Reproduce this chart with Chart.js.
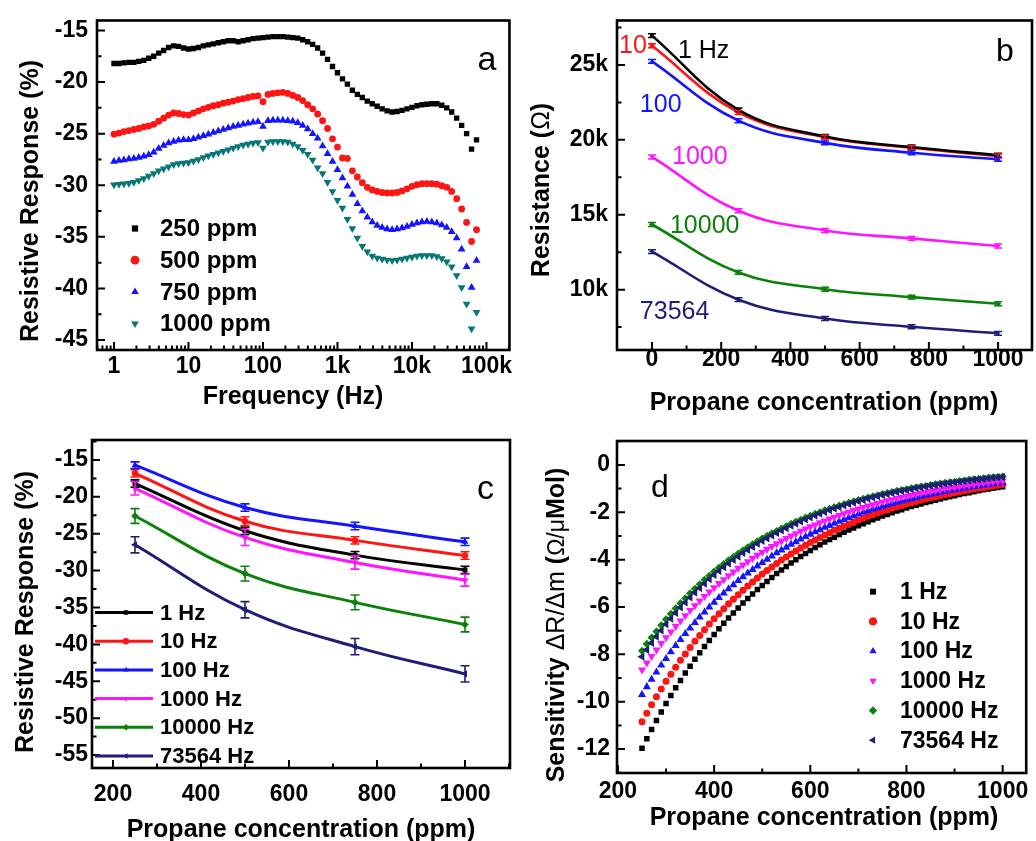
<!DOCTYPE html>
<html>
<head>
<meta charset="utf-8">
<script src="https://cdn.jsdelivr.net/npm/chart.js@4/dist/chart.umd.min.js"></script>
<style>
  html, body { margin: 0; padding: 0; background: #fff; }
  body { width: 1036px; height: 841px; overflow: hidden; position: relative; }
  .panel { position: absolute; }
</style>
</head>
<body>
<div class="panel" style="left:0;top:0;width:518px;height:420px"><canvas id="chartA"></canvas></div>
<div class="panel" style="left:518px;top:0;width:518px;height:420px"><canvas id="chartB"></canvas></div>
<div class="panel" style="left:0;top:418px;width:518px;height:430px"><canvas id="chartC"></canvas></div>
<div class="panel" style="left:518px;top:418px;width:518px;height:430px"><canvas id="chartD"></canvas></div>
<script>
// ---------- (a) resistive response vs frequency ----------
const freqHz = [
  1, 1.166, 1.359, 1.585, 1.848, 2.154, 2.512, 2.929, 3.415, 3.981, 4.642, 5.412, 6.31, 7.356, 8.577,
  10, 11.66, 13.59, 15.85, 18.48, 21.54, 25.12, 29.29, 34.15, 39.81, 46.42, 54.12, 63.1, 73.56, 85.77,
  100, 116.6, 135.9, 158.5, 184.8, 215.4, 251.2, 292.9, 341.5, 398.1, 464.2, 541.2, 631, 735.6, 857.7,
  1000, 1166, 1359, 1585, 1848, 2154, 2512, 2929, 3415, 3981, 4642, 5412, 6310, 7356, 8577,
  10000, 11659, 13594, 15849, 18478, 21544, 25119, 29286, 34146, 39811, 46416, 54117, 63096, 73564
];
const resp250ppm = [
  -18.2, -18.2, -18.15, -18.1, -18.1, -18.0, -17.9, -17.7, -17.5, -17.2, -16.95, -16.65, -16.5, -16.55, -16.7,
  -16.8, -16.75, -16.65, -16.5, -16.4, -16.3, -16.2, -16.1, -16.0, -16.0, -16.1, -16.0, -15.9, -15.8, -15.75,
  -15.7, -15.65, -15.6, -15.6, -15.6, -15.65, -15.7, -15.75, -15.9, -16.1, -16.35, -16.7, -17.2, -17.8, -18.5,
  -19.1, -19.7, -20.2, -20.8, -21.2, -21.5, -21.85, -22.1, -22.35, -22.6, -22.8, -22.9, -22.85, -22.75, -22.6,
  -22.45, -22.3, -22.2, -22.15, -22.1, -22.1, -22.25, -22.5, -22.9, -23.5, -24.2, -25.0, -26.5, -25.6
];
const resp500ppm = [
  -25.05, -24.95, -24.8, -24.7, -24.6, -24.5, -24.35, -24.25, -24.1, -23.8, -23.5, -23.2, -23.0, -23.05, -23.15,
  -23.2, -23.0, -22.8, -22.6, -22.45, -22.3, -22.2, -22.05, -21.95, -21.85, -21.7, -21.6, -21.5, -21.4, -21.35,
  -21.9, -21.2, -21.1, -21.05, -21.0, -21.1, -21.3, -21.5, -21.8, -22.2, -22.6, -23.1, -23.75, -24.5, -25.5,
  -26.3, -27.35, -27.4, -28.6, -29.2, -29.75, -30.2, -30.45, -30.6, -30.7, -30.75, -30.75, -30.7, -30.55, -30.35,
  -30.1, -29.95, -29.85, -29.85, -29.85, -29.9, -30.05, -30.2, -30.6, -31.3, -32.3, -33.6, -35.45, -34.3
];
const resp750ppm = [
  -27.7, -27.6, -27.55, -27.45, -27.4, -27.3, -27.2, -27.05, -26.8, -26.45, -26.15, -25.9, -25.75, -25.65, -25.6,
  -25.6, -25.5, -25.35, -25.2, -25.05, -24.9, -24.75, -24.6, -24.45, -24.3, -24.2, -24.1, -24.0, -23.9, -23.85,
  -24.3, -23.75, -23.7, -23.7, -23.7, -23.75, -23.8, -23.95, -24.2, -24.55, -25.0, -25.45, -26.2, -26.95, -27.7,
  -28.5, -29.3, -30.1, -30.9, -31.8, -32.5, -33.1, -33.55, -33.9, -34.1, -34.25, -34.3, -34.25, -34.15, -34.0,
  -33.8, -33.65, -33.55, -33.5, -33.55, -33.65, -33.85, -34.1, -34.5, -35.1, -36.2, -37.9, -39.9, -37.3
];
const resp1000ppm = [
  -29.95, -29.9, -29.85, -29.8, -29.7, -29.55, -29.35, -29.1, -28.85, -28.6, -28.4, -28.2, -28.0, -27.9, -27.85,
  -27.8, -27.65, -27.5, -27.3, -27.15, -27.0, -26.85, -26.7, -26.55, -26.4, -26.25, -26.1, -26.0, -25.9, -25.85,
  -26.4, -25.8, -25.75, -25.75, -25.75, -25.8, -26.0, -26.25, -26.6, -27.0, -27.55, -28.3, -28.85, -29.7, -30.6,
  -31.45, -32.2, -33.3, -34.2, -35.1, -35.9, -36.45, -36.85, -37.05, -37.15, -37.25, -37.3, -37.25, -37.15, -37.05,
  -36.95, -36.85, -36.8, -36.8, -36.8, -36.9, -37.1, -37.4, -37.9, -38.75, -39.9, -41.5, -43.9, -42.3
];
const freqTicks = [1, 10, 100, 1000, 10000, 100000];
const freqTickText = ['1', '10', '100', '1k', '10k', '100k'];

// ---------- (b) resistance vs propane concentration ----------
const concB = [0, 250, 500, 750, 1000];
const res1Hz     = [26960, 22000, 20225, 19520, 18970];
const res10Hz    = [26280, 21830, 20180, 19470, 18925];
const res100Hz   = [25240, 21280, 19800, 19140, 18700];
const res1000Hz  = [18860, 15270, 13950, 13420, 12910];
const res10000Hz = [14350, 11150, 10030, 9500, 9060];
const res73564Hz = [12540, 9330, 8070, 7520, 7080];
const resErr     = [130, 130, 130, 130, 130];
const resTicks = [10000, 15000, 20000, 25000];
const resTickText = ['10k', '15k', '20k', '25k'];

// ---------- (c) resistive response vs propane concentration ----------
const concC = [250, 500, 750, 1000];
const respC1Hz     = [-18.2, -24.6, -27.9, -29.9];
const respC10Hz    = [-16.8, -23.3, -25.9, -27.95];
const respC100Hz   = [-15.7, -21.45, -23.95, -26.1];
const respC1000Hz  = [-18.85, -25.5, -28.9, -31.3];
const respC10000Hz = [-22.6, -30.4, -34.3, -37.3];
const respC73564Hz = [-26.5, -35.3, -40.3, -44.0];
const errC1Hz     = [0.5, 0.5, 0.5, 0.5];
const errC10Hz    = [0.5, 0.6, 0.5, 0.5];
const errC100Hz   = [0.45, 0.5, 0.5, 0.5];
const errC1000Hz  = [0.9, 1.1, 0.9, 0.8];
const errC10000Hz = [1.0, 1.0, 1.0, 1.0];
const errC73564Hz = [1.1, 1.1, 1.1, 1.1];

// ---------- (d) sensitivity vs propane concentration ----------
const concD = [
  250, 260, 270, 280, 290, 300, 310, 320, 330, 340, 350, 360, 370, 380, 390, 400, 410, 420, 430, 440,
  450, 460, 470, 480, 490, 500, 510, 520, 530, 540, 550, 560, 570, 580, 590, 600, 610, 620, 630, 640,
  650, 660, 670, 680, 690, 700, 710, 720, 730, 740, 750, 760, 770, 780, 790, 800, 810, 820, 830, 840,
  850, 860, 870, 880, 890, 900, 910, 920, 930, 940, 950, 960, 970, 980, 990, 1000
];
const sens1Hz = [
  -11.96, -11.56, -11.17, -10.79, -10.43, -10.08, -9.74, -9.41, -9.10, -8.79,
  -8.50, -8.21, -7.93, -7.67, -7.41, -7.16, -6.92, -6.69, -6.46, -6.25,
  -6.04, -5.83, -5.64, -5.45, -5.26, -5.09, -4.92, -4.75, -4.59, -4.44,
  -4.29, -4.14, -4.00, -3.87, -3.74, -3.61, -3.49, -3.37, -3.26, -3.15,
  -3.05, -2.94, -2.84, -2.75, -2.66, -2.57, -2.48, -2.40, -2.32, -2.24,
  -2.16, -2.09, -2.02, -1.95, -1.89, -1.82, -1.76, -1.70, -1.65, -1.59,
  -1.54, -1.49, -1.44, -1.39, -1.34, -1.30, -1.25, -1.21, -1.17, -1.13,
  -1.09, -1.05, -1.02, -0.99, -0.95, -0.92
];
const sens10Hz = [
  -10.85, -10.49, -10.13, -9.79, -9.46, -9.14, -8.84, -8.54, -8.25, -7.98,
  -7.71, -7.45, -7.20, -6.96, -6.72, -6.50, -6.28, -6.07, -5.86, -5.67,
  -5.48, -5.29, -5.11, -4.94, -4.78, -4.61, -4.46, -4.31, -4.16, -4.02,
  -3.89, -3.76, -3.63, -3.51, -3.39, -3.28, -3.17, -3.06, -2.96, -2.86,
  -2.76, -2.67, -2.58, -2.49, -2.41, -2.33, -2.25, -2.17, -2.10, -2.03,
  -1.96, -1.90, -1.83, -1.77, -1.71, -1.65, -1.60, -1.54, -1.49, -1.44,
  -1.39, -1.35, -1.30, -1.26, -1.22, -1.18, -1.14, -1.10, -1.06, -1.02,
  -0.99, -0.96, -0.92, -0.89, -0.86, -0.83
];
const sens100Hz = [
  -9.70, -9.37, -9.06, -8.75, -8.46, -8.18, -7.90, -7.63, -7.38, -7.13,
  -6.89, -6.66, -6.43, -6.22, -6.01, -5.81, -5.61, -5.42, -5.24, -5.07,
  -4.89, -4.73, -4.57, -4.42, -4.27, -4.13, -3.99, -3.85, -3.72, -3.60,
  -3.48, -3.36, -3.25, -3.14, -3.03, -2.93, -2.83, -2.74, -2.64, -2.56,
  -2.47, -2.39, -2.31, -2.23, -2.15, -2.08, -2.01, -1.94, -1.88, -1.82,
  -1.75, -1.70, -1.64, -1.58, -1.53, -1.48, -1.43, -1.38, -1.33, -1.29,
  -1.25, -1.20, -1.16, -1.12, -1.09, -1.05, -1.02, -0.98, -0.95, -0.92,
  -0.89, -0.86, -0.83, -0.80, -0.77, -0.75
];
const sens1000Hz = [
  -8.65, -8.36, -8.08, -7.81, -7.54, -7.29, -7.05, -6.81, -6.58, -6.36,
  -6.14, -5.94, -5.74, -5.55, -5.36, -5.18, -5.00, -4.84, -4.67, -4.52,
  -4.36, -4.22, -4.08, -3.94, -3.81, -3.68, -3.56, -3.44, -3.32, -3.21,
  -3.10, -3.00, -2.90, -2.80, -2.70, -2.61, -2.53, -2.44, -2.36, -2.28,
  -2.20, -2.13, -2.06, -1.99, -1.92, -1.86, -1.79, -1.73, -1.68, -1.62,
  -1.56, -1.51, -1.46, -1.41, -1.36, -1.32, -1.27, -1.23, -1.19, -1.15,
  -1.11, -1.07, -1.04, -1.00, -0.97, -0.94, -0.91, -0.87, -0.85, -0.82,
  -0.79, -0.76, -0.74, -0.71, -0.69, -0.67
];
const sens10000Hz = [
  -7.85, -7.56, -7.29, -7.03, -6.77, -6.52, -6.29, -6.06, -5.84, -5.63,
  -5.42, -5.23, -5.04, -4.85, -4.68, -4.51, -4.34, -4.19, -4.03, -3.89,
  -3.75, -3.61, -3.48, -3.35, -3.23, -3.11, -3.00, -2.89, -2.79, -2.69,
  -2.59, -2.49, -2.40, -2.32, -2.23, -2.15, -2.07, -2.00, -1.92, -1.85,
  -1.79, -1.72, -1.66, -1.60, -1.54, -1.49, -1.43, -1.38, -1.33, -1.28,
  -1.23, -1.19, -1.15, -1.10, -1.06, -1.03, -0.99, -0.95, -0.92, -0.89,
  -0.85, -0.82, -0.79, -0.76, -0.74, -0.71, -0.68, -0.66, -0.63, -0.61,
  -0.59, -0.57, -0.55, -0.53, -0.51, -0.49
];
const sens73564Hz = [
  -8.10, -7.81, -7.52, -7.25, -6.99, -6.73, -6.49, -6.25, -6.02, -5.81,
  -5.60, -5.39, -5.20, -5.01, -4.83, -4.65, -4.48, -4.32, -4.16, -4.01,
  -3.87, -3.72, -3.59, -3.46, -3.33, -3.21, -3.10, -2.98, -2.87, -2.77,
  -2.67, -2.57, -2.48, -2.39, -2.30, -2.22, -2.14, -2.06, -1.99, -1.91,
  -1.84, -1.78, -1.71, -1.65, -1.59, -1.53, -1.48, -1.42, -1.37, -1.32,
  -1.27, -1.23, -1.18, -1.14, -1.10, -1.06, -1.02, -0.98, -0.95, -0.91,
  -0.88, -0.85, -0.82, -0.79, -0.76, -0.73, -0.70, -0.68, -0.65, -0.63,
  -0.61, -0.59, -0.56, -0.54, -0.52, -0.51
];

const freqLabels = ['1 Hz', '10 Hz', '100 Hz', '1000 Hz', '10000 Hz', '73564 Hz'];

// ---------- shared styling ----------
const FAM = "'Liberation Sans', Arial, Helvetica, sans-serif";
const COL = {
  black: '#000000', red: '#ff1414', blue: '#1414ff', magenta: '#ff14ff',
  green: '#0a820a', navy: '#1e1e78', teal: '#067676'
};
const tickFont = { family: FAM, size: 23, weight: 'bold', lineHeight: 1 };
const B25 = `bold 25px ${FAM}`;
const R25 = `25px ${FAM}`;

const pts = (xs, ys) => xs.map((x, i) => ({ x, y: ys[i] }));

function axis(o) {
  return {
    type: o.type || 'linear',
    position: o.position,
    min: o.min, max: o.max,
    grid: { display: false, drawTicks: false },
    border: { display: false },
    ticks: {
      font: tickFont, color: '#000', padding: o.pad, autoSkip: false, maxRotation: 0,
      callback: (v) => {
        const i = o.ticks.indexOf(v);
        return o.text ? (i >= 0 ? o.text[i] : '') : String(v);
      }
    },
    title: { display: false },
    afterBuildTicks: (s) => { s.ticks = o.ticks.map(v => ({ value: v })); },
    afterFit: (s) => { if (o.position === 'left') s.width = o.size; else s.height = o.size; }
  };
}

// box frame with inward major/minor ticks on the left and bottom axes
const framePlugin = {
  id: 'frame',
  afterDatasetsDraw(chart, args, o) {
    const { ctx, chartArea: a, scales } = chart;
    ctx.save();
    ctx.strokeStyle = '#000';
    ctx.lineWidth = 2;
    ctx.beginPath();
    const xt = (v, len) => {
      const p = scales.x.getPixelForValue(v);
      if (p < a.left - 0.5 || p > a.right + 0.5) return;
      ctx.moveTo(p, a.bottom); ctx.lineTo(p, a.bottom - len);
    };
    const yt = (v, len) => {
      const p = scales.y.getPixelForValue(v);
      if (p < a.top - 0.5 || p > a.bottom + 0.5) return;
      ctx.moveTo(a.left, p); ctx.lineTo(a.left + len, p);
    };
    (o.xMajor || []).forEach(v => xt(v, 8));
    (o.xMinor || []).forEach(v => xt(v, 4.5));
    (o.yMajor || []).forEach(v => yt(v, 8));
    (o.yMinor || []).forEach(v => yt(v, 4.5));
    ctx.stroke();
    ctx.lineWidth = 2.6;
    ctx.strokeRect(a.left, a.top, a.right - a.left, a.bottom - a.top);
    ctx.restore();
  }
};

// vertical error bars with caps, taken from dataset.errors
const errorBarPlugin = {
  id: 'errorBars',
  afterDatasetsDraw(chart, args, o) {
    const { ctx } = chart;
    const ys = chart.scales.y;
    chart.data.datasets.forEach((ds, i) => {
      if (!ds.errors) return;
      const meta = chart.getDatasetMeta(i);
      ctx.save();
      ctx.strokeStyle = ds.borderColor;
      ctx.lineWidth = o.width || 1.5;
      meta.data.forEach((el, j) => {
        const v = ds.data[j].y, e = ds.errors[j];
        const y1 = ys.getPixelForValue(v + e), y2 = ys.getPixelForValue(v - e);
        ctx.beginPath();
        ctx.moveTo(el.x, y1); ctx.lineTo(el.x, y2);
        ctx.moveTo(el.x - o.cap, y1); ctx.lineTo(el.x + o.cap, y1);
        ctx.moveTo(el.x - o.cap, y2); ctx.lineTo(el.x + o.cap, y2);
        ctx.stroke();
      });
      ctx.restore();
    });
  }
};

// legend drawn inside the plot area
const insideLegend = {
  id: 'insideLegend',
  afterDraw(chart, args, o) {
    if (!o || !o.show) return;
    const { ctx, chartArea: a } = chart;
    ctx.save();
    ctx.font = `bold ${o.size}px ${FAM}`;
    ctx.textBaseline = 'middle';
    ctx.textAlign = 'left';
    chart.data.datasets.forEach((ds, i) => {
      const y = a.top + o.y + i * o.dy;
      if (o.line) {
        ctx.strokeStyle = ds.borderColor;
        ctx.lineWidth = 3;
        ctx.beginPath();
        ctx.moveTo(a.left + o.lx1, y); ctx.lineTo(a.left + o.lx2, y);
        ctx.stroke();
      }
      ctx.fillStyle = ds.pointBackgroundColor;
      Chart.helpers.drawPoint(ctx, {
        pointStyle: ds.pointStyle, radius: o.r || ds.pointRadius,
        rotation: ds.pointRotation || 0, borderWidth: 0
      }, a.left + o.mx, y);
      ctx.fillStyle = '#000';
      ctx.fillText(ds.label, a.left + o.tx, y + 1);
    });
    ctx.restore();
  }
};

// free text: axis titles (canvas px), panel letters (relative to plot area),
// curve annotations (data units); a text may be made of runs with their own fonts
function drawNotes(chart, list) {
  const { ctx, chartArea: a, scales } = chart;
  ctx.save();
  list.forEach(n => {
    let x, y;
    if (n.cx !== undefined) { x = n.cx; y = n.cy; }
    else if (n.ax !== undefined) {
      x = n.ax >= 0 ? a.left + n.ax : a.right + n.ax;
      y = a.top + n.ay;
    } else {
      x = scales.x.getPixelForValue(n.x);
      y = scales.y.getPixelForValue(n.y);
    }
    const runs = n.runs || [[n.text, n.font]];
    ctx.fillStyle = n.color || '#000';
    ctx.textBaseline = 'middle';
    ctx.textAlign = 'left';
    let total = 0;
    runs.forEach(r => { ctx.font = r[1]; total += ctx.measureText(r[0]).width; });
    const align = n.align || 'left';
    let start = align === 'center' ? -total / 2 : (align === 'right' ? -total : 0);
    ctx.translate(x, y);
    if (n.rot) ctx.rotate(n.rot * Math.PI / 180);
    runs.forEach(r => {
      ctx.font = r[1];
      ctx.fillText(r[0], start, 0);
      start += ctx.measureText(r[0]).width;
    });
    ctx.setTransform(1, 0, 0, 1, 0, 0);
  });
  ctx.restore();
}
const notesPlugin = {
  id: 'notes',
  beforeDatasetsDraw(chart, args, o) { if (o && o.under) drawNotes(chart, o.under); },
  afterDraw(chart, args, o) { if (o && o.over) drawNotes(chart, o.over); }
};

Chart.register(framePlugin, errorBarPlugin, insideLegend, notesPlugin);

function baseOptions(padding) {
  return {
    responsive: true,
    maintainAspectRatio: false,
    devicePixelRatio: 1,
    animation: false,
    events: [],
    layout: { padding },
    plugins: { legend: { display: false }, tooltip: { enabled: false } }
  };
}

function markerSet(label, data, color, style, radius, rotation, extra) {
  return Object.assign({
    label, data,
    borderColor: color, backgroundColor: color,
    pointBackgroundColor: color, pointBorderColor: color, pointBorderWidth: 0,
    pointStyle: style, pointRadius: radius, pointRotation: rotation || 0,
    showLine: false
  }, extra || {});
}

const letterFont = (s) => `${s}px ${FAM}`;

// ---------- chart (a) ----------
{
  const opt = baseOptions({ left: 0, top: 18, right: 8, bottom: 0 });
  opt.scales = {
    x: axis({ type: 'logarithmic', position: 'bottom', min: 0.5916, max: 203400, ticks: freqTicks, text: freqTickText,
              pad: 5.5, size: 70 }),
    y: axis({ position: 'left', min: -45.96, max: -14.04, ticks: [-45, -40, -35, -30, -25, -20, -15],
              pad: 9, size: 97 })
  };
  const minorLog = [0.6, 0.7, 0.8, 0.9];
  [1, 10, 100, 1000, 10000, 100000].forEach(d => { for (let m = 2; m <= 9; m++) minorLog.push(m * d); });
  opt.plugins.frame = {
    xMajor: freqTicks, xMinor: minorLog,
    yMajor: [-45, -40, -35, -30, -25, -20, -15], yMinor: [-42.5, -37.5, -32.5, -27.5, -22.5, -17.5]
  };
  opt.plugins.insideLegend = { show: true, size: 24, mx: 38, tx: 63, y: 208, dy: 31.7, r: 4.4 };
  opt.plugins.notes = { over: [
    { text: 'a', ax: -32, ay: 40, font: letterFont(34) },
    { text: 'Resistive Response (%)', font: B25, cx: 31, cy: 201, rot: -90, align: 'center' },
    { text: 'Frequency (Hz)', font: B25, cx: 293, cy: 397, align: 'center' }
  ] };
  new Chart(document.getElementById('chartA'), {
    type: 'scatter',
    data: {
      datasets: [
        markerSet('250 ppm', pts(freqHz, resp250ppm), COL.black, 'rect', 3.8),
        markerSet('500 ppm', pts(freqHz, resp500ppm), COL.red, 'circle', 3.4),
        markerSet('750 ppm', pts(freqHz, resp750ppm), COL.blue, 'triangle', 4.5),
        markerSet('1000 ppm', pts(freqHz, resp1000ppm), COL.teal, 'triangle', 4.5, 180)
      ]
    },
    options: opt
  });
}

// ---------- chart (b) ----------
{
  const opt = baseOptions({ left: 0, top: 17, right: 4, bottom: 0 });
  opt.scales = {
    x: axis({ position: 'bottom', min: -101, max: 1098, ticks: [0, 200, 400, 600, 800, 1000],
              pad: -1.5, size: 70 }),
    y: axis({ position: 'left', min: 5970, max: 27970, ticks: resTicks, text: resTickText,
              pad: 9, size: 99 })
  };
  opt.plugins.frame = {
    xMajor: [0, 200, 400, 600, 800, 1000], xMinor: [100, 300, 500, 700, 900],
    yMajor: resTicks, yMinor: [7500, 12500, 17500, 22500, 27500]
  };
  opt.plugins.errorBars = { cap: 4, width: 1.5 };
  const lab = letterFont(25);
  opt.plugins.notes = {
    under: [
      { text: '10', x: -95, y: 26250, font: lab, color: COL.red },
      { text: '1 Hz', x: 75, y: 25930, font: lab, color: COL.black },
      { text: '100', x: -35, y: 22290, font: lab, color: COL.blue },
      { text: '1000', x: 58, y: 18860, font: lab, color: COL.magenta },
      { text: '10000', x: 52, y: 14240, font: lab, color: COL.green },
      { text: '73564', x: -35, y: 8490, font: lab, color: COL.navy }
    ],
    over: [
      { text: 'b', ax: -36, ay: 32, font: letterFont(32) },
      { runs: [['Resistance (', B25], ['Ω', R25], [')', B25]], cx: 24.5, cy: 190, rot: -90, align: 'center' },
      { text: 'Propane concentration (ppm)', font: B25, cx: 306, cy: 403, align: 'center' }
    ]
  };
  const line = { showLine: true, borderWidth: 2.6, tension: 0.4, fill: false, errors: resErr };
  new Chart(document.getElementById('chartB'), {
    type: 'scatter',
    data: {
      datasets: [
        markerSet(freqLabels[0], pts(concB, res1Hz), COL.black, 'rect', 2.8, 0, line),
        markerSet(freqLabels[1], pts(concB, res10Hz), COL.red, 'circle', 2.5, 0, line),
        markerSet(freqLabels[2], pts(concB, res100Hz), COL.blue, 'triangle', 3, 0, line),
        markerSet(freqLabels[3], pts(concB, res1000Hz), COL.magenta, 'triangle', 3, 180, line),
        markerSet(freqLabels[4], pts(concB, res10000Hz), COL.green, 'rectRot', 3, 0, line),
        markerSet(freqLabels[5], pts(concB, res73564Hz), COL.navy, 'triangle', 3, 270, line)
      ]
    },
    options: opt
  });
}

// ---------- chart (c) ----------
{
  const opt = baseOptions({ left: 0, top: 22, right: 8, bottom: 0 });
  const yT = [-55, -50, -45, -40, -35, -30, -25, -20, -15];
  opt.scales = {
    x: axis({ position: 'bottom', min: 152.3, max: 1102.3, ticks: [200, 400, 600, 800, 1000],
              pad: 15.5, size: 80 }),
    y: axis({ position: 'left', min: -56.76, max: -12.29, ticks: yT,
              pad: 4, size: 92 })
  };
  opt.plugins.frame = {
    xMajor: [200, 400, 600, 800, 1000], xMinor: [300, 500, 700, 900, 1100],
    yMajor: yT, yMinor: [-52.5, -47.5, -42.5, -37.5, -32.5, -27.5, -22.5, -17.5, -12.5]
  };
  opt.plugins.errorBars = { cap: 4.5, width: 1.6 };
  opt.plugins.insideLegend = { show: true, line: true, size: 22, lx1: 3, lx2: 61, mx: 34, tx: 68, y: 172.5, dy: 28.7, r: 3.2 };
  opt.plugins.notes = { over: [
    { text: 'c', ax: -33, ay: 50, font: letterFont(34) },
    { text: 'Resistive Response (%)', font: B25, cx: 26, cy: 194, rot: -90, align: 'center' },
    { text: 'Propane concentration (ppm)', font: B25, cx: 301, cy: 412, align: 'center' }
  ] };
  const mk = (l, v, e, c, s, r, rot) => markerSet(l, pts(concC, v), c, s, r, rot,
    { showLine: true, borderWidth: 3, tension: 0.4, fill: false, errors: e });
  new Chart(document.getElementById('chartC'), {
    type: 'scatter',
    data: {
      datasets: [
        mk(freqLabels[0], respC1Hz, errC1Hz, COL.black, 'rect', 3.5),
        mk(freqLabels[1], respC10Hz, errC10Hz, COL.red, 'circle', 3.2),
        mk(freqLabels[2], respC100Hz, errC100Hz, COL.blue, 'triangle', 4),
        mk(freqLabels[3], respC1000Hz, errC1000Hz, COL.magenta, 'triangle', 4, 180),
        mk(freqLabels[4], respC10000Hz, errC10000Hz, COL.green, 'rectRot', 3.8),
        mk(freqLabels[5], respC73564Hz, errC73564Hz, COL.navy, 'triangle', 4, 270)
      ]
    },
    options: opt
  });
}

// ---------- chart (d) ----------
{
  const opt = baseOptions({ left: 0, top: 23, right: 4, bottom: 0 });
  const yT = [-12, -10, -8, -6, -4, -2, 0];
  opt.scales = {
    x: axis({ position: 'bottom', min: 198, max: 1049, ticks: [200, 400, 600, 800, 1000],
              pad: 7.5, size: 75 }),
    y: axis({ position: 'left', min: -13.01, max: 1.01, ticks: yT,
              pad: 7, size: 99 })
  };
  opt.plugins.frame = {
    xMajor: [200, 400, 600, 800, 1000], xMinor: [300, 500, 700, 900],
    yMajor: yT, yMinor: [-13, -11, -9, -7, -5, -3, -1, 1]
  };
  opt.plugins.insideLegend = { show: true, size: 23, mx: 256, tx: 283, y: 150.7, dy: 29.7, r: 4.2 };
  opt.plugins.notes = { over: [
    { text: 'd', ax: 34, ay: 47, font: letterFont(32) },
    { runs: [['Sensitivity ', B25], ['ΔR/Δm', R25], [' (', B25], ['Ω/μ', `23px ${FAM}`], ['Mol)', B25]],
      cx: 39.5, cy: 207, rot: -90, align: 'center' },
    { text: 'Propane concentration (ppm)', font: B25, cx: 306, cy: 400, align: 'center' }
  ] };
  const sets = [sens1Hz, sens10Hz, sens100Hz, sens1000Hz, sens10000Hz, sens73564Hz];
  const cols = [COL.black, COL.red, COL.blue, COL.magenta, COL.green, COL.navy];
  const styles = [['rect', 3.9, 0], ['circle', 3.5, 0], ['triangle', 4.7, 0], ['triangle', 4.7, 180], ['rectRot', 4.1, 0], ['triangle', 4.7, 270]];
  new Chart(document.getElementById('chartD'), {
    type: 'scatter',
    data: {
      datasets: sets.map((s, i) => markerSet(freqLabels[i], pts(concD, s), cols[i], styles[i][0], styles[i][1], styles[i][2], { order: 5 - i }))
    },
    options: opt
  });
}
</script>
</body>
</html>
